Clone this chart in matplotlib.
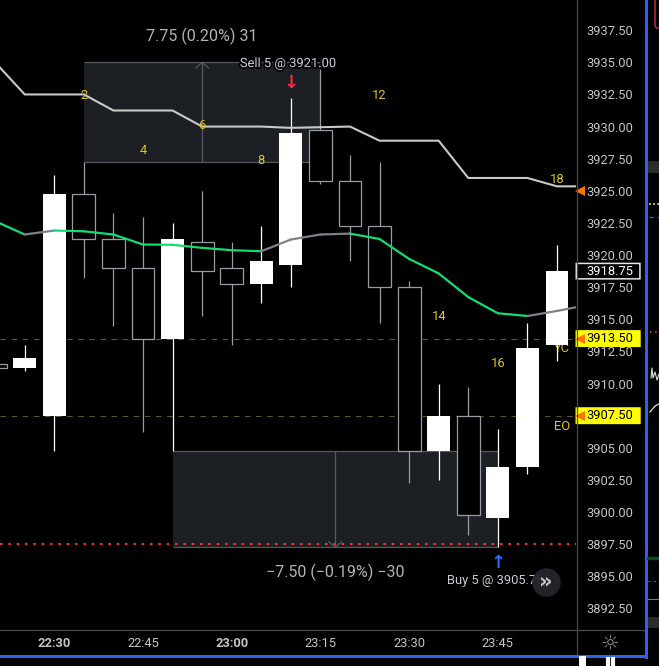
import numpy as np
import matplotlib
matplotlib.use('Agg')
import matplotlib.pyplot as plt
import matplotlib.patches as mpatches
import matplotlib.patheffects as pe
from matplotlib.collections import LineCollection
from matplotlib.lines import Line2D

plt.rcParams['font.family'] = ['Roboto', 'DejaVu Sans']

# ── Data: 5-minute candles ────────────────────────────────────────────────────
times  = ['22:20', '22:25', '22:30', '22:35', '22:40', '22:45', '22:50', '22:55',
          '23:00', '23:05', '23:10', '23:15', '23:20', '23:25', '23:30', '23:35',
          '23:40', '23:45', '23:50', '23:55']
opens  = [3911.50, 3911.25, 3907.50, 3924.75, 3921.25, 3919.00, 3913.50, 3921.00,
          3919.00, 3917.75, 3919.25, 3929.75, 3925.75, 3922.25, 3917.50, 3904.75,
          3907.50, 3899.50, 3903.50, 3913.00]
highs  = [3911.50, 3913.00, 3926.25, 3927.25, 3923.25, 3923.00, 3922.50, 3925.00,
          3921.00, 3922.25, 3932.25, 3934.50, 3927.75, 3927.25, 3918.00, 3910.00,
          3909.75, 3906.50, 3914.75, 3920.75]
lows   = [3911.25, 3911.00, 3904.75, 3918.25, 3914.50, 3906.25, 3904.75, 3915.25,
          3913.00, 3916.25, 3917.50, 3925.50, 3919.50, 3914.75, 3902.25, 3902.50,
          3898.25, 3897.25, 3903.00, 3911.75]
closes = [3911.25, 3912.00, 3924.75, 3921.25, 3919.00, 3913.50, 3921.25, 3918.75,
          3917.75, 3919.50, 3929.50, 3925.75, 3922.25, 3917.50, 3904.75, 3907.50,
          3899.75, 3903.50, 3912.75, 3918.75]

# indicator lines (last value = next, still-forming bar)
upper_line = [3935.00, 3932.50, 3932.50, 3932.50, 3931.25, 3931.25, 3931.25, 3930.00,
              3930.00, 3930.00, 3929.90, 3929.95, 3930.00, 3928.90, 3928.90, 3928.90,
              3926.00, 3926.00, 3926.00, 3925.35, 3925.35]
ma_line    = [3922.64, 3921.60, 3921.91, 3921.85, 3921.60, 3920.82, 3920.80, 3920.56,
              3920.38, 3920.30, 3921.21, 3921.60, 3921.67, 3921.25, 3919.70, 3918.57,
              3916.73, 3915.47, 3915.26, 3915.65, 3916.10]

# bar counter labels
count_labels = ['2', '4', '6', '8', '12', '14', '16', '18']
count_idx    = [3, 5, 7, 9, 13, 15, 17, 19]
count_price  = [3932.40, 3928.10, 3930.10, 3927.35, 3932.40, 3915.20, 3911.60, 3925.90]

yc_level, eo_level = 3913.50, 3907.50
stop_level = 3897.50
last_price = 3918.75
upper_marker = 3925.00

# measure boxes: (start idx, end idx, low, high)
meas_up   = (3, 11, 3927.25, 3935.00)
meas_down = (6, 17, 3897.25, 3904.75)

price_ticks = np.arange(3892.5, 3937.6, 2.5)
time_ticks  = [2, 5, 8, 11, 14, 17]

# ── Style ─────────────────────────────────────────────────────────────────────
W, H = 659, 666
BG      = '#000000'
TXT     = '#c4c4c4'
GRID_C  = '#4a4a4a'
HOLLOW  = '#9a9ca3'
YELLOW  = '#e3c41c'
GREEN   = '#12dd74'
MA_GREY = '#80808c'
BLUE    = '#2d62f0'

fig = plt.figure(figsize=(W / 100, H / 100), dpi=100, facecolor=BG)
ax = fig.add_axes([0, (H - 629) / H, 576 / W, 629 / H])
ax.set_facecolor(BG)
for s in ax.spines.values():
    s.set_visible(False)

x = np.arange(len(times))
o, h, l, c = map(np.array, (opens, highs, lows, closes))
up = c >= o
lo = np.minimum(o, c)
ht = np.abs(c - o)

ax.vlines(x[up], l[up], h[up], color='white', lw=0.9, zorder=4)
ax.vlines(x[~up], l[~up], h[~up], color=HOLLOW, lw=0.9, zorder=4)
ax.bar(x[up], ht[up], 0.77, bottom=lo[up], color='white', zorder=5)
ax.bar(x[~up], ht[~up], 0.77, bottom=lo[~up], facecolor=BG, edgecolor=HOLLOW,
       lw=0.9, zorder=5)

# ── Indicator lines ───────────────────────────────────────────────────────────
xi = np.arange(len(upper_line))
ax.plot(xi, upper_line, color='#c9c9c9', lw=1.5, zorder=6, solid_joinstyle='round')

ma = np.array(ma_line)
pts = np.column_stack([xi, ma])
segs = np.stack([pts[:-1], pts[1:]], axis=1)
cols = [GREEN if ma[i + 1] < ma[i] else MA_GREY for i in range(len(ma) - 1)]
ax.add_collection(LineCollection(segs, colors=cols, linewidths=1.6, zorder=6,
                                 capstyle='round'))

# ── Levels ────────────────────────────────────────────────────────────────────
for lvl in (yc_level, eo_level):
    ax.axhline(lvl, color='#5a5a22', lw=0.8, dashes=(5, 5), zorder=2)
ax.axhline(stop_level, color='#ff2d2d', lw=1.5, dashes=(1.2, 2.8), zorder=7)

# ── Measure boxes ─────────────────────────────────────────────────────────────
for (i0, i1, plo, phi), tip in ((meas_up, 'up'), (meas_down, 'down')):
    ax.add_patch(mpatches.Rectangle((i0, plo), i1 - i0, phi - plo,
                                    facecolor='#1c1f24', edgecolor='none', zorder=1))
    ax.hlines([plo, phi], i0, i1, color='#55575c', lw=0.9, zorder=1.5)
    xm = (i0 + i1) / 2
    ax.vlines(xm, plo, phi, color='#55575c', lw=0.9, zorder=1.5)
    ty = phi if tip == 'up' else plo
    dy = -0.45 if tip == 'up' else 0.45
    ax.plot([xm - 0.22, xm, xm + 0.22], [ty + dy, ty, ty + dy],
            color='#55575c', lw=0.9, zorder=1.5)

ax.text(7, 3937.05, '7.75 (0.20%) 31', color='#b4b4b4', fontsize=11.5,
        ha='center', va='center', zorder=8)
ax.text(11.5, 3895.3, '\u22127.50 (\u22120.19%) \u221230', color='#b4b4b4',
        fontsize=11.5, ha='center', va='center', zorder=8)

# ── Trade markers ─────────────────────────────────────────────────────────────
stroke = [pe.withStroke(linewidth=2.5, foreground=BG)]
ax.text(9.9, 3934.9, 'Sell 5 @ 3921.00', color='#c8ccd4', fontsize=9.3,
        ha='center', va='center', zorder=8, path_effects=stroke)
ax.text(10, 3933.4, '\u2193', color='#ff2a3a', fontsize=13, fontweight='bold',
        family='DejaVu Sans', ha='center', va='center', zorder=8)
ax.text(17, 3896.05, '\u2191', color='#2d6bff', fontsize=13, fontweight='bold',
        family='DejaVu Sans', ha='center', va='center', zorder=8)
ax.text(16.9, 3894.7, 'Buy 5 @ 3905.75', color='#c8ccd4', fontsize=9.3,
        ha='center', va='center', zorder=8)
ax.scatter([18.63], [3894.55], s=420, color='#25272c', alpha=0.95, zorder=9,
           linewidths=0)
ax.text(18.63, 3894.6, '\u00bb', color='#c8c8c8', fontsize=15, fontweight='bold',
        family='DejaVu Sans', ha='center', va='center', zorder=10)

# ── Bar counters ──────────────────────────────────────────────────────────────
for lab, i, p in zip(count_labels, count_idx, count_price):
    ax.text(i, p, lab, color=YELLOW, fontsize=9.3, ha='center', va='center', zorder=8)
ax.text(19.18, 3912.7, 'YC', color=YELLOW, fontsize=9.3, ha='center', va='center',
        zorder=3)
ax.text(19.17, 3906.65, 'EO', color=YELLOW, fontsize=9.3, ha='center', va='center',
        zorder=8)

# ── Axes ──────────────────────────────────────────────────────────────────────
ax.set_xlim(0.164, 19.643)
ax.set_ylim(3890.90, 3939.85)
ax.yaxis.tick_right()
ax.set_yticks(price_ticks)
ax.set_yticklabels([f'{p:.2f}' for p in price_ticks])
ax.tick_params(axis='y', length=0, pad=7.7, labelsize=9.3, labelcolor=TXT)
ax.set_xticks(time_ticks)
ax.set_xticklabels([times[i] for i in time_ticks])
ax.tick_params(axis='x', length=0, pad=5.5, labelsize=9.3, labelcolor=TXT)
for lab in ax.get_xticklabels():
    if lab.get_text() in ('22:30', '23:00'):
        lab.set_fontweight('bold')
for lab in ax.get_yticklabels():
    lab.set_horizontalalignment('left')

ytr = ax.get_yaxis_transform()


def price_tag(p, face, edge, tcol, arrow):
    bh = 0.6
    ax.add_patch(mpatches.FancyBboxPatch((1.0005, p - bh), 0.1105, 2 * bh,
                 boxstyle='round,pad=0,rounding_size=0.004', transform=ytr,
                 facecolor=face, edgecolor=edge, lw=1.1, clip_on=False, zorder=20))
    ax.text(1.0186, p, f'{p:.2f}', transform=ytr, color=tcol, fontsize=9.3,
            va='center', ha='left', clip_on=False, zorder=21)
    if arrow:
        ax.plot([1.007], [p], marker='<', ms=6.5, color='#ff7300', transform=ytr,
                clip_on=False, zorder=22, mew=0)


price_tag(last_price, BG, '#e8e8e8', '#ffffff', False)
price_tag(yc_level, '#ffff00', '#ffff00', '#000000', True)
price_tag(eo_level, '#ffff00', '#ffff00', '#000000', True)
ax.plot([1.007], [upper_marker], marker='<', ms=6.5, color='#ff7300', transform=ytr,
        clip_on=False, zorder=22, mew=0)

# ── Frame lines (figure pixels) ───────────────────────────────────────────────
def fl(xs, ys, **kw):
    fig.add_artist(Line2D([v / W for v in xs], [1 - v / H for v in ys],
                          transform=fig.transFigure, **kw))


fl([576.5, 576.5], [0, 656], color=GRID_C, lw=0.9)
fl([0, 645], [629.5, 629.5], color=GRID_C, lw=0.9)
fl([645.5, 645.5], [0, 657], color=BLUE, lw=2.2)
fl([0, 646], [656, 656], color=BLUE, lw=2.2)
fig.text(610 / W, 1 - 643 / H, '\u263c', color='#8c8c8c', fontsize=15,
         family='DejaVu Sans', ha='center', va='center')

# neighbouring panel sliver on the right
fig.add_artist(mpatches.FancyBboxPatch((655 / W, 1 - 28 / H), 20 / W, 40 / H,
               boxstyle='round,pad=0,rounding_size=0.005', transform=fig.transFigure,
               facecolor='none', edgecolor='#d43040', lw=1.0))
fig.add_artist(mpatches.Rectangle((648 / W, 1 - 173 / H), 11 / W, 12 / H,
               transform=fig.transFigure, facecolor='#2c2c2c', edgecolor='none'))
fig.add_artist(mpatches.Rectangle((648 / W, 1 - 628 / H), 11 / W, 11 / H,
               transform=fig.transFigure, facecolor='#2c2c2c', edgecolor='none'))
fl([649, 659], [204, 204], color='#ffff30', lw=1.2, dashes=(1, 1.5))
fl([649, 659], [217, 217], color=BLUE, lw=1.0, dashes=(3, 3))
fl([650, 659], [332, 332], color='#ff2d2d', lw=1.2, dashes=(1, 2))
fl([648, 659], [558, 558], color='#0d4a1c', lw=2.5)
fl([648, 659], [581, 581], color=BLUE, lw=0.8, dashes=(2, 3))
fl([648, 659], [599, 599], color='#777777', lw=0.8)
fl([650, 655, 659], [412, 406, 404], color='#dddddd', lw=0.9)
fl([651, 652, 653, 655, 657, 659], [378, 368, 378, 372, 380, 374], color='#dddddd', lw=0.8)
fl([582, 582], [659, 666], color='white', lw=5)
fl([608, 608], [659, 666], color='white', lw=3)
fl([613, 613], [659, 666], color='white', lw=3)

fig.savefig('out.png', dpi=100, facecolor=BG)
